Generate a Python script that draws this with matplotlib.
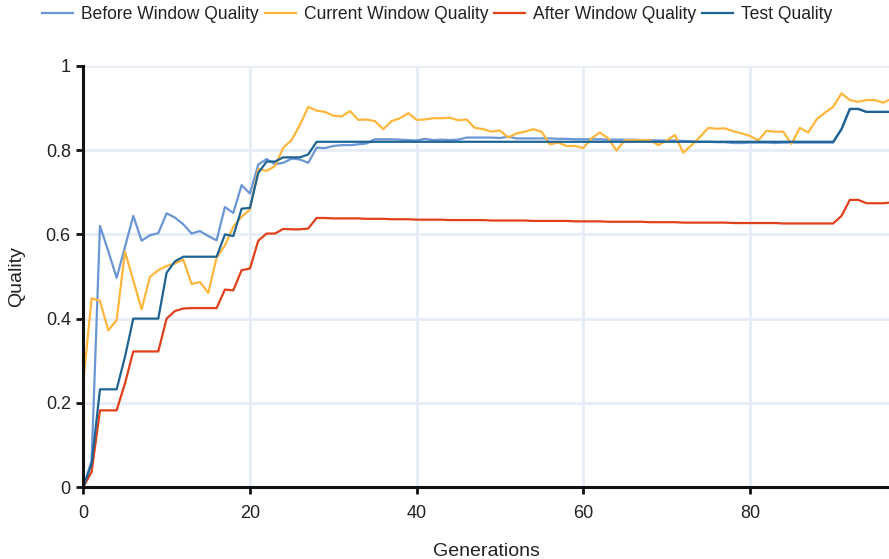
import numpy as np
import matplotlib
matplotlib.use("Agg")
import matplotlib.pyplot as plt

plt.rcParams["font.family"] = ["Liberation Sans", "DejaVu Sans"]

generations = list(range(98))

before_window = [
    0.0, 0.063, 0.62, 0.56, 0.497, 0.57, 0.644, 0.585, 0.598, 0.603,
    0.65, 0.64, 0.624, 0.602, 0.608, 0.596, 0.586, 0.665, 0.651, 0.717,
    0.697, 0.766, 0.779, 0.767, 0.77, 0.78, 0.778, 0.77, 0.806, 0.805,
    0.81, 0.812, 0.812, 0.814, 0.816, 0.826, 0.826, 0.826, 0.825, 0.824,
    0.823, 0.827, 0.824, 0.825, 0.824, 0.825, 0.83, 0.83, 0.83, 0.83,
    0.829, 0.832, 0.828, 0.828, 0.828, 0.828, 0.828, 0.827, 0.827, 0.826,
    0.826, 0.826, 0.826, 0.825, 0.825, 0.825, 0.825, 0.824, 0.824, 0.823,
    0.823, 0.823, 0.822, 0.821, 0.82, 0.82, 0.819, 0.819, 0.817, 0.817,
    0.818, 0.818, 0.818, 0.817, 0.818, 0.818, 0.818, 0.818, 0.818, 0.818,
    0.818, 0.85, 0.898, 0.898, 0.891, 0.891, 0.891, 0.891,
]

current_window = [
    0.25, 0.448, 0.442, 0.372, 0.396, 0.559, 0.491, 0.422, 0.499, 0.515,
    0.525, 0.531, 0.54, 0.482, 0.487, 0.461, 0.545, 0.574, 0.618, 0.642,
    0.659, 0.755, 0.751, 0.762, 0.806, 0.824, 0.86, 0.903, 0.894, 0.891,
    0.882, 0.88, 0.893, 0.872, 0.873, 0.869, 0.85, 0.869, 0.876, 0.888,
    0.872, 0.873, 0.876, 0.876, 0.877, 0.871, 0.873, 0.853, 0.85, 0.844,
    0.847, 0.83, 0.84, 0.844, 0.85, 0.844, 0.814, 0.818, 0.81, 0.81,
    0.805, 0.828, 0.842, 0.828, 0.799, 0.824, 0.824, 0.824, 0.824, 0.812,
    0.823, 0.836, 0.794, 0.812, 0.831, 0.853, 0.851, 0.852, 0.845, 0.84,
    0.834, 0.823, 0.846, 0.844, 0.844, 0.815, 0.853, 0.842, 0.873, 0.889,
    0.903, 0.935, 0.919, 0.915, 0.919, 0.919, 0.913, 0.922,
]

after_window = [
    0.0, 0.036, 0.182, 0.182, 0.182, 0.246, 0.322, 0.322, 0.322, 0.322,
    0.4, 0.418, 0.424, 0.425, 0.425, 0.425, 0.425, 0.469, 0.467, 0.515,
    0.519, 0.585, 0.602, 0.602, 0.613, 0.612, 0.612, 0.614, 0.639, 0.639,
    0.638, 0.638, 0.638, 0.638, 0.637, 0.637, 0.637, 0.636, 0.636, 0.636,
    0.635, 0.635, 0.635, 0.635, 0.634, 0.634, 0.634, 0.634, 0.634, 0.633,
    0.633, 0.633, 0.633, 0.633, 0.632, 0.632, 0.632, 0.632, 0.632, 0.631,
    0.631, 0.631, 0.631, 0.630, 0.630, 0.630, 0.630, 0.630, 0.629, 0.629,
    0.629, 0.629, 0.628, 0.628, 0.628, 0.628, 0.628, 0.628, 0.627, 0.627,
    0.627, 0.627, 0.627, 0.627, 0.626, 0.626, 0.626, 0.626, 0.626, 0.626,
    0.626, 0.644, 0.682, 0.682, 0.674, 0.674, 0.674, 0.676,
]

test_quality = [
    0.0, 0.055, 0.232, 0.232, 0.232, 0.309, 0.4, 0.4, 0.4, 0.4,
    0.509, 0.536, 0.547, 0.547, 0.547, 0.547, 0.547, 0.6, 0.596, 0.661,
    0.663, 0.746, 0.773, 0.773, 0.783, 0.783, 0.783, 0.79, 0.82, 0.82,
    0.82, 0.82, 0.82, 0.82, 0.82, 0.82, 0.82, 0.82, 0.82, 0.82,
    0.82, 0.82, 0.82, 0.82, 0.82, 0.82, 0.82, 0.82, 0.82, 0.82,
    0.82, 0.82, 0.82, 0.82, 0.82, 0.82, 0.82, 0.82, 0.82, 0.82,
    0.82, 0.82, 0.82, 0.82, 0.82, 0.82, 0.82, 0.82, 0.82, 0.82,
    0.82, 0.82, 0.82, 0.82, 0.82, 0.82, 0.82, 0.82, 0.82, 0.82,
    0.82, 0.82, 0.82, 0.82, 0.82, 0.82, 0.82, 0.82, 0.82, 0.82,
    0.82, 0.85, 0.898, 0.898, 0.891, 0.891, 0.891, 0.891,
]

series = [
    ("Before Window Quality", before_window, "#6a96d5"),
    ("Current Window Quality", current_window, "#ffb63c"),
    ("After Window Quality", after_window, "#e2401a"),
    ("Test Quality", test_quality, "#1d6393"),
]

fig = plt.figure(figsize=(8.89, 5.59), dpi=100)
ax = fig.add_axes([83.3 / 889, 72 / 559, (889 - 83.3) / 889, 421 / 559])

for label, values, color in series:
    ax.plot(generations, values, color=color, linewidth=1.6, label=label)

ax.set_xlim(0, 96.7)
ax.set_ylim(0, 1)
ax.set_xticks([0, 20, 40, 60, 80])
ax.set_yticks([0, 0.2, 0.4, 0.6, 0.8, 1])
ax.set_yticklabels(["0", "0.2", "0.4", "0.6", "0.8", "1"])

ax.grid(True, color="#e6edf7", linewidth=2)
ax.set_axisbelow(True)
for side in ["top", "right"]:
    ax.spines[side].set_visible(False)
for side in ["left", "bottom"]:
    ax.spines[side].set_linewidth(2.2)
    ax.spines[side].set_color("#111111")
ax.tick_params(direction="out", length=5, width=2, color="#111111",
               labelsize=13, labelcolor="#222222", pad=4)
ax.tick_params(axis="x", pad=8)

ax.set_xlabel("Generations", fontsize=14, color="#222222", labelpad=15)
ax.set_ylabel("Quality", fontsize=14, color="#222222", labelpad=15)

fig.legend(loc="upper left", bbox_to_anchor=(0.030, 1.017), ncol=4, frameon=False,
           fontsize=12.65, handlelength=1.75, handletextpad=0.45,
           columnspacing=0.35, labelcolor="#222222")

plt.savefig("out.png", dpi=100)
